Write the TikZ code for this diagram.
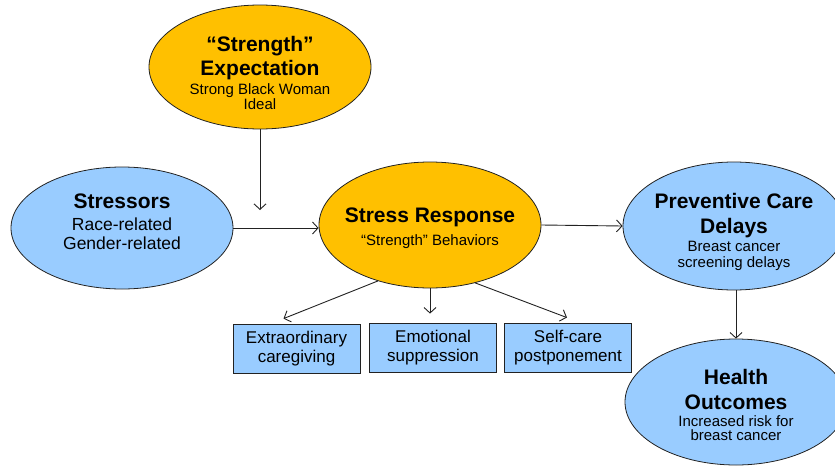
\documentclass[tikz,border=0pt]{standalone}
\usepackage{fontspec}
\setmainfont{Liberation Sans}
\usetikzlibrary{shapes.geometric,arrows.meta}
\definecolor{orng}{HTML}{FFC000}
\definecolor{lblue}{HTML}{99CCFF}
\definecolor{edge}{HTML}{222222}
\tikzset{
  oval/.style={ellipse, draw=edge, line width=0.8pt, inner sep=0pt,
    minimum width=222pt, minimum height=124pt},
  ovalO/.style={oval, fill=orng},
  ovalB/.style={oval, fill=lblue},
  otext/.style={align=center, inner sep=0pt, font=\fontsize{15}{30}\selectfont},
  bbox/.style={rectangle, draw=edge, line width=0.8pt, fill=lblue, align=center,
    minimum width=127pt, minimum height=49pt, inner sep=0pt,
    font=\fontsize{17}{19}\selectfont},
  conn/.style={draw=edge, line width=0.9pt, -{Straight Barb[length=5.5pt,width=12pt]}},
}
\newcommand{\ttlA}[1]{{\fontsize{21}{24}\selectfont\bfseries #1}}
\newcommand{\subA}[1]{{\fontsize{15}{16}\selectfont #1}}
\newcommand{\subB}[1]{{\fontsize{17.5}{19}\selectfont #1}}
\begin{document}
\begin{tikzpicture}[x=1pt,y=-1pt]
\useasboundingbox (0,0) rectangle (835,466);
\node[ovalO] (se) at (260,67) {};
\node[otext] (se-t) at ([yshift=-6pt]se.center) {\ttlA{“Strength”}\\[-5.7pt]\ttlA{Expectation}\\[-11pt]\subA{Strong Black Woman}\\[-15pt]\subA{Ideal}};
\node[ovalB, minimum height=122pt] (st) at (122,228) {};
\node[otext] (st-t) at ([yshift=6pt]st.center) {\ttlA{Stressors}\\[-8pt]\subB{Race-related}\\[-11pt]\subB{Gender-related}};
\node[ovalO, minimum height=126pt] (sr) at (430,225) {};
\node[otext] (sr-t) at ([yshift=-3pt]sr.center) {\ttlA{Stress Response}\\[-7pt]\subA{“Strength” Behaviors}};
\node[ovalB, minimum height=128pt] (pc) at (734,226) {};
\node[otext] (pc-t) at ([yshift=-6pt]pc.center) {\ttlA{Preventive Care}\\[-5pt]\ttlA{Delays}\\[-12pt]\subA{Breast cancer}\\[-14pt]\subA{screening delays}};
\node[ovalB, minimum height=126pt] (ho) at (736,402) {};
\node[otext] (ho-t) at ([yshift=-3pt]ho.center) {\ttlA{Health}\\[-5pt]\ttlA{Outcomes}\\[-13pt]\subA{Increased risk for}\\[-15.7pt]\subA{breast cancer}};
\node[bbox] (b1) at (296.5,348.5) {Extraordinary\\caregiving};
\node[bbox] (b2) at (433,347.5) {Emotional\\suppression};
\node[bbox] (b3) at (568,347.5) {Self-care\\postponement};
\coordinate (tip) at (260,210);
\draw[conn] (se.south) -- (tip);
\draw[conn] (st.east) -- (st.east -| sr.west);
\draw[conn] (sr.east) -- (pc.west);
\draw[conn] (pc.south -| ho.north) -- (ho.north);
\draw[conn] (sr.227) -- ([xshift=-13pt,yshift=5pt]b1.north);
\draw[conn] (sr.south) -- ([xshift=-3pt,yshift=9pt]b2.north);
\draw[conn] (sr.308) -- ([xshift=-1pt,yshift=5pt]b3.north);
\end{tikzpicture}
\end{document}
